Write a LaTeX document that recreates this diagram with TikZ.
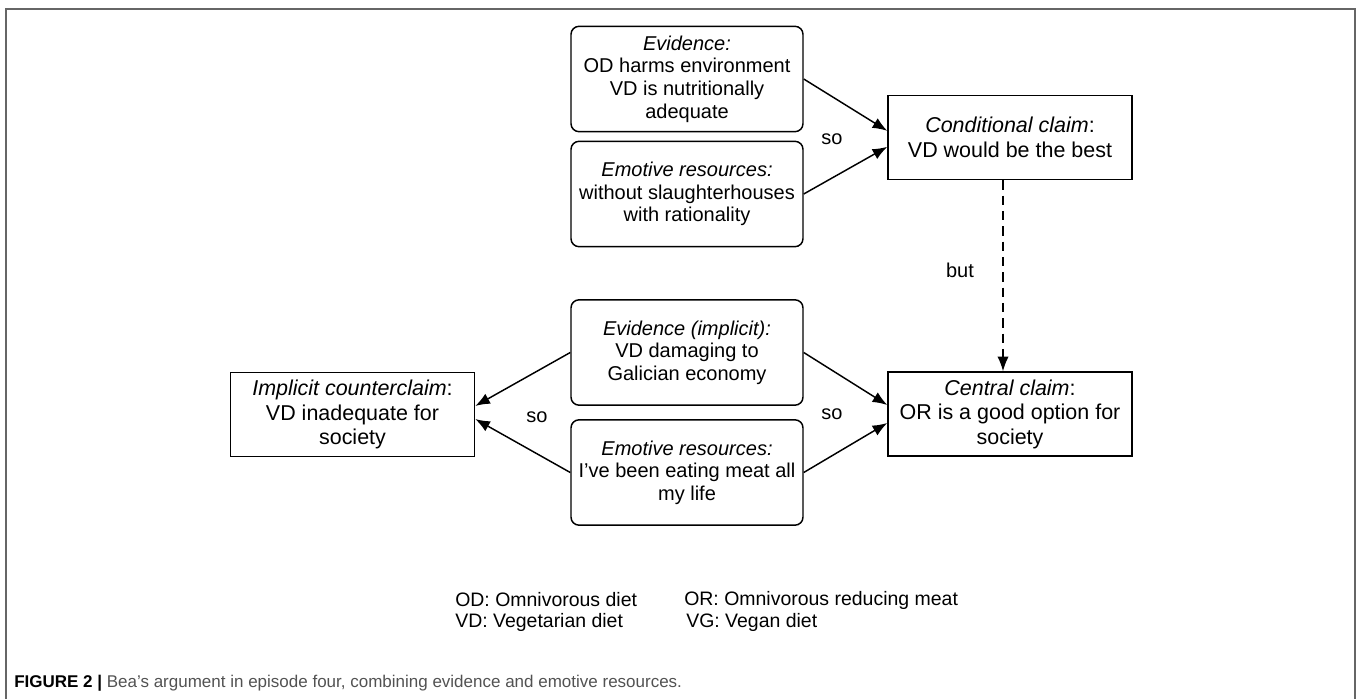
\documentclass[tikz,border=0pt]{standalone}
\usepackage{fontspec}
\setmainfont{Liberation Sans}
\usetikzlibrary{arrows.meta}
\definecolor{framegray}{gray}{0.4}
\definecolor{capgray}{gray}{0.32}
\begin{document}
\begin{tikzpicture}[x=0.75pt,y=-0.75pt,>={Latex[length=11pt,width=8.5pt]},
    box/.style={draw,line width=1.1pt,align=center,inner sep=0pt,
        minimum width=183pt,minimum height=63pt,font=\fontsize{16.1}{18.4}\selectfont},
    rbox/.style={box,rounded corners=6pt,minimum width=174pt,minimum height=79pt,
        font=\fontsize{15}{17}\selectfont},
    lbl/.style={font=\fontsize{15}{17}\selectfont},
    key/.style={anchor=west,inner sep=0pt,font=\fontsize{14.6}{16.5}\selectfont}]
    \useasboundingbox (0,0) rectangle (1357,699);
    \draw[framegray,line width=0.9pt] (6,699) |- (1355,9) -- (1355,699);
    % upper part
    \node[rbox] (evid) at (687,79) {\textit{Evidence:}\\OD harms environment\\VD is nutritionally\\adequate};
    \node[rbox] (emot) at (687,194) {\textit{Emotive resources:}\\without slaughterhouses\\with rationality};
    \node[box] (cond) at (1010,137.5) {\textit{Conditional claim}:\\VD would be the best};
    \draw[->,line width=1.1pt] (evid.east) -- ([yshift=5pt]cond.west);
    \draw[->,line width=1.1pt] (emot.east) -- ([yshift=-7pt]cond.west);
    \node[lbl] (so1) at (832,139) {so};
    % lower part
    \node[rbox] (evimp) at (687,352.5) {\textit{Evidence (implicit):}\\VD damaging to\\Galician economy};
    \node[rbox] (emlife) at (687,472.5) {\textit{Emotive resources:}\\I've been eating meat all\\my life};
    \node[box] (counter) at (352.5,414.5) {\textit{Implicit counterclaim}:\\VD inadequate for\\society};
    \node[box] (central) at (1010,414) {\textit{Central claim}:\\OR is a good option for\\society};
    \foreach \s/\d in {evimp/6.75,emlife/-6.75}
    {
        \draw[->,line width=1.1pt] (\s.east) -- ([yshift=\d pt]central.west);
    }
    \draw[->,line width=1.1pt] (evimp.west) -- ([yshift=6.4pt]counter.east);
    \draw[->,line width=1.1pt] (emlife.west) -- ([yshift=-3.4pt]counter.east);
    \node[lbl] (so2) at (832,414) {so};
    \node[lbl] (so3) at (537,417) {so};
    \draw[->,line width=1.1pt,dash pattern=on 7pt off 4.5pt] ([xshift=-5.25pt]cond.south) -- ([xshift=-5.25pt]central.north);
    \node[lbl] (but) at (960,270) {but};
    % key
    \node[key] (od) at (455,600) {OD: Omnivorous diet};
    \node[key] (vd) at (455,622) {VD: Vegetarian diet};
    \node[key] (or) at (684,600) {OR: Omnivorous reducing meat};
    \node[key] (vg) at (686,622) {VG: Vegan diet};
    \node[anchor=west,inner sep=0pt,font=\fontsize{12.75}{14}\selectfont,text=capgray] (cap) at (14,683)
        {\textcolor{black}{\textbf{FIGURE 2 |}} Bea's argument in episode four, combining evidence and emotive resources.};
\end{tikzpicture}
\end{document}
